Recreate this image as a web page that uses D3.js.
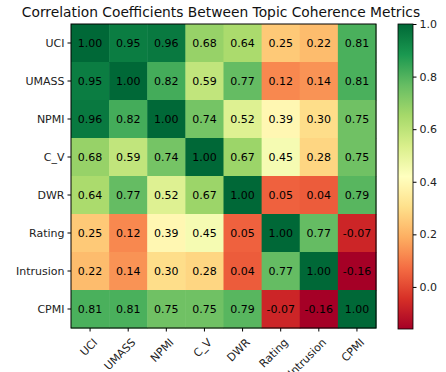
<!DOCTYPE html>
<html><head><meta charset="utf-8">
<script src="https://cdn.jsdelivr.net/npm/d3@7"></script>
<style>body{margin:0;background:#fff}svg text{font-family:'DejaVu Sans','Verdana',sans-serif}</style>
</head><body><svg id="c" width="446" height="372"></svg>
<script>
const metrics = ["UCI","UMASS","NPMI","C_V","DWR","Rating","Intrusion","CPMI"];
const matrix = [
  [1.00,0.95,0.96,0.68,0.64,0.25,0.22,0.81],
  [0.95,1.00,0.82,0.59,0.77,0.12,0.14,0.81],
  [0.96,0.82,1.00,0.74,0.52,0.39,0.30,0.75],
  [0.68,0.59,0.74,1.00,0.67,0.45,0.28,0.75],
  [0.64,0.77,0.52,0.67,1.00,0.05,0.04,0.79],
  [0.25,0.12,0.39,0.45,0.05,1.00,0.77,-0.07],
  [0.22,0.14,0.30,0.28,0.04,0.77,1.00,-0.16],
  [0.81,0.81,0.75,0.75,0.79,-0.07,-0.16,1.00]
];
const colorTicks = [0.0,0.2,0.4,0.6,0.8,1.0];
const title = "Correlation Coefficients Between Topic Coherence Metrics";
const FF = "DejaVu Sans";

const svg = d3.select("#c");
const L=71,R=376,T=24,B=328;
const x = d3.scaleBand().domain(metrics).range([L,R]);
const y = d3.scaleBand().domain(metrics).range([T,B]);
const vmin = d3.min(matrix.flat()), vmax = d3.max(matrix.flat());
const rdylgn = ["#a50026","#d73027","#f46d43","#fdae61","#fee08b","#ffffbf","#d9ef8b","#a6d96a","#66bd63","#1a9850","#006837"];
const cmap = d3.scaleLinear().domain(d3.range(11).map(i=>i/10)).range(rdylgn).interpolate(d3.interpolateRgb).clamp(true);
const color = v => cmap((v-vmin)/(vmax-vmin));

const cells = [];
matrix.forEach((row,i)=>row.forEach((v,j)=>cells.push({r:metrics[i],c:metrics[j],v})));
svg.append("g").selectAll("rect").data(cells).join("rect")
  .attr("x",d=>x(d.c)).attr("y",d=>y(d.r)).attr("width",x.bandwidth()+0.5).attr("height",y.bandwidth()+0.5)
  .attr("fill",d=>color(d.v));
svg.append("g").selectAll("text").data(cells).join("text")
  .attr("x",d=>x(d.c)+x.bandwidth()/2).attr("y",d=>y(d.r)+y.bandwidth()/2+4)
  .attr("text-anchor","middle").attr("font-family",FF)
  .attr("font-size",11).attr("fill","#000").text(d=>d.v.toFixed(2));
svg.append("rect").attr("x",L).attr("y",T).attr("width",R-L).attr("height",B-T)
  .attr("fill","none").attr("stroke","#000").attr("stroke-width",1);

const ax = svg.append("g").attr("transform",`translate(0,${B})`).call(d3.axisBottom(x).tickSize(3.5).tickPadding(3));
ax.attr("font-family",FF).attr("font-size",11);
ax.select(".domain").remove();
ax.selectAll("text").attr("fill","#222").attr("text-anchor","end")
  .attr("transform","translate(-2,5) rotate(-45)").attr("dy","0.71em");
const ay = svg.append("g").attr("transform",`translate(${L},0)`).call(d3.axisLeft(y).tickSize(3.5).tickPadding(3));
ay.attr("font-family",FF).attr("font-size",11);
ay.select(".domain").remove();
ay.selectAll("text").attr("fill","#222");

svg.append("text").attr("x",221).attr("y",17).attr("text-anchor","middle").attr("font-family",FF)
  .attr("font-size",13.8).attr("fill","#111").text(title);

// colorbar
const CL=398,CW=15;
const cy = d3.scaleLinear().domain([vmin,vmax]).range([B+1,T]);
const defs = svg.append("defs");
const grad = defs.append("linearGradient").attr("id","g").attr("x1",0).attr("y1",1).attr("x2",0).attr("y2",0);
d3.range(0,1.0001,0.05).forEach(t=>grad.append("stop").attr("offset",t).attr("stop-color",cmap(t)));
svg.append("rect").attr("x",CL).attr("y",T).attr("width",CW).attr("height",B+1-T).attr("fill","url(#g)")
  .attr("stroke","#000").attr("stroke-width",0.8);
const ac = svg.append("g").attr("transform",`translate(${CL+CW},0)`).call(d3.axisRight(cy).tickValues(colorTicks).tickFormat(d3.format(".1f")).tickSize(3.5).tickPadding(3));
ac.attr("font-family",FF).attr("font-size",11);
ac.select(".domain").remove();
ac.selectAll("text").attr("fill","#222");
</script></body></html>
